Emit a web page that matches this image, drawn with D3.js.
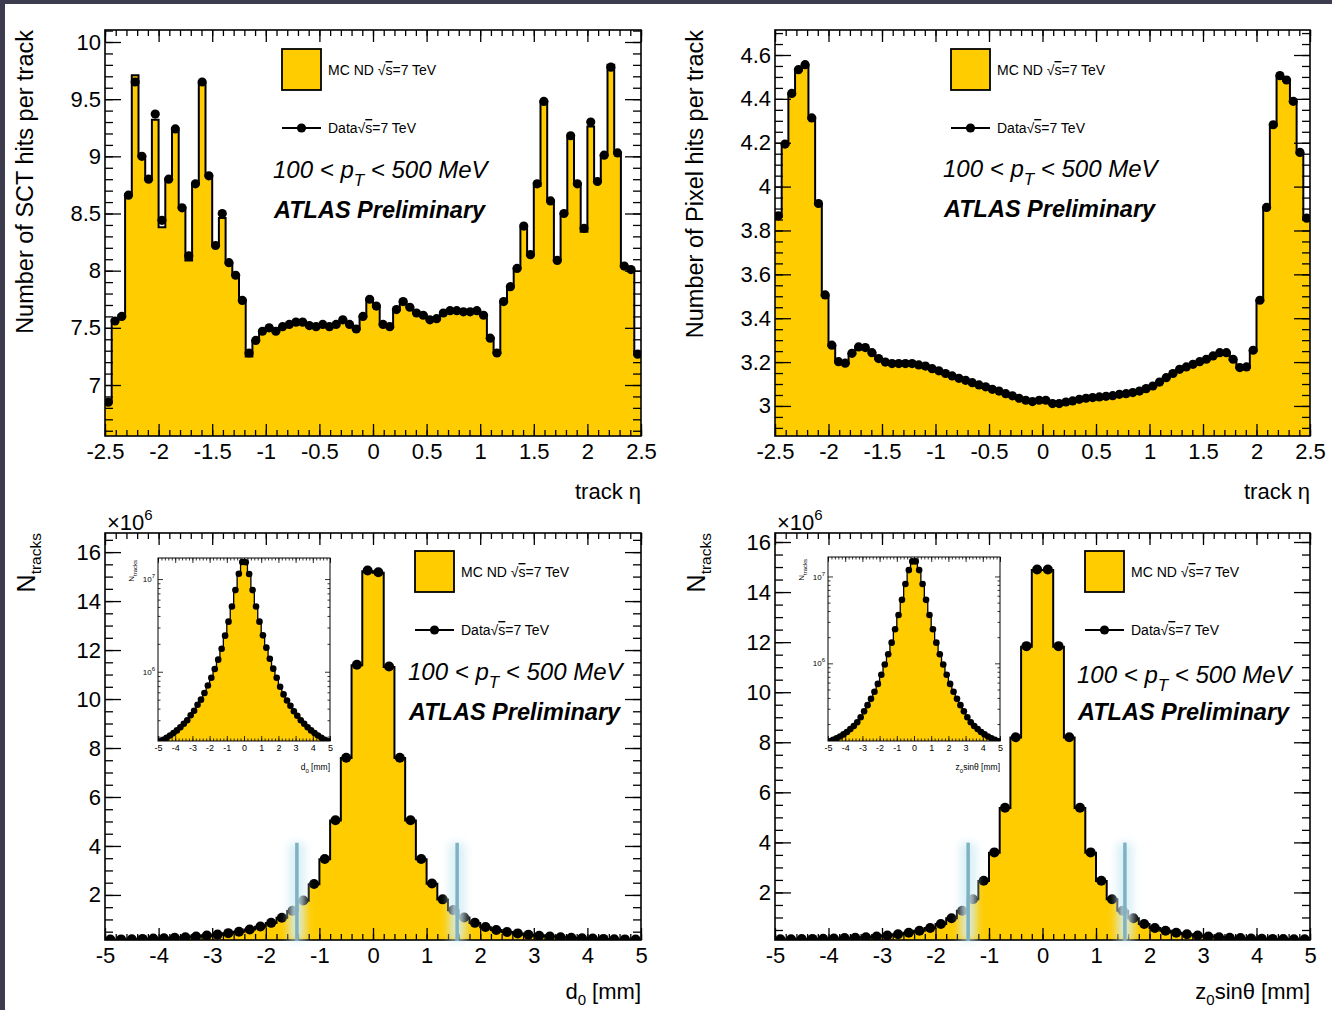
<!DOCTYPE html>
<html>
<head>
<meta charset="utf-8">
<script src="https://cdn.jsdelivr.net/npm/d3@7"></script>
<style>
  html, body { margin: 0; padding: 0; background: #3d3b4e; }
  svg { display: block; }
</style>
</head>
<body>
<svg id="chart" width="1332" height="1010"></svg>
<script>
// ---- data ----
const etaRange = [-2.5, 2.5]
const ipRange = [-5, 5]

// SCT hits per track, 80 bins in eta
const sctData = [
  6.85, 7.56, 7.60, 8.66, 9.65, 9.00, 8.80, 9.37, 8.44, 8.80,
  9.24, 8.55, 8.13, 8.76, 9.65, 8.83, 8.22, 8.50, 8.07, 7.96,
  7.74, 7.28, 7.39, 7.47, 7.50, 7.47, 7.51, 7.53, 7.55, 7.55,
  7.52, 7.51, 7.53, 7.51, 7.53, 7.57, 7.53, 7.49, 7.60, 7.75,
  7.69, 7.53, 7.51, 7.66, 7.73, 7.68, 7.63, 7.61, 7.57, 7.58,
  7.63, 7.65, 7.65, 7.64, 7.64, 7.65, 7.61, 7.41, 7.28, 7.73,
  7.86, 8.02, 8.39, 8.14, 8.76, 9.48, 8.61, 8.09, 8.50, 9.18,
  8.76, 8.37, 9.30, 8.78, 9.01, 9.78, 9.03, 8.04, 8.01, 7.27
]
const sctMC = [
  6.85, 7.57, 7.61, 8.67, 9.71, 9.00, 8.80, 9.32, 8.38, 8.80,
  9.22, 8.55, 8.09, 8.76, 9.64, 8.83, 8.22, 8.46, 8.07, 7.96,
  7.74, 7.25, 7.39, 7.47, 7.50, 7.47, 7.51, 7.53, 7.55, 7.55,
  7.52, 7.51, 7.53, 7.51, 7.53, 7.57, 7.53, 7.49, 7.60, 7.75,
  7.69, 7.53, 7.51, 7.66, 7.73, 7.68, 7.63, 7.61, 7.57, 7.58,
  7.63, 7.65, 7.65, 7.64, 7.64, 7.65, 7.61, 7.41, 7.28, 7.73,
  7.86, 8.02, 8.37, 8.14, 8.74, 9.48, 8.61, 8.09, 8.50, 9.16,
  8.76, 8.34, 9.26, 8.78, 9.01, 9.80, 9.03, 8.04, 8.01, 7.27
]

// Pixel hits per track, 80 bins in eta
const pixData = [
  3.867, 4.194, 4.425, 4.533, 4.556, 4.313, 3.923, 3.506, 3.277, 3.202,
  3.195, 3.240, 3.269, 3.266, 3.243, 3.216, 3.200, 3.193, 3.193, 3.193,
  3.193, 3.187, 3.182, 3.170, 3.160, 3.148, 3.137, 3.126, 3.117, 3.106,
  3.096, 3.087, 3.076, 3.068, 3.056, 3.046, 3.035, 3.026, 3.020, 3.026,
  3.026, 3.011, 3.011, 3.018, 3.023, 3.030, 3.035, 3.038, 3.041, 3.044,
  3.047, 3.053, 3.056, 3.061, 3.068, 3.079, 3.091, 3.109, 3.129, 3.148,
  3.167, 3.178, 3.190, 3.202, 3.213, 3.228, 3.243, 3.243, 3.213, 3.175,
  3.178, 3.254, 3.482, 3.905, 4.282, 4.506, 4.486, 4.389, 4.156, 3.856
]
const pixMC = [
  3.862, 4.190, 4.420, 4.530, 4.552, 4.310, 3.920, 3.502, 3.274, 3.200,
  3.193, 3.238, 3.266, 3.264, 3.241, 3.214, 3.198, 3.191, 3.191, 3.191,
  3.191, 3.185, 3.180, 3.168, 3.158, 3.146, 3.135, 3.124, 3.115, 3.104,
  3.094, 3.085, 3.074, 3.066, 3.054, 3.044, 3.033, 3.024, 3.018, 3.024,
  3.024, 3.009, 3.009, 3.016, 3.021, 3.028, 3.033, 3.036, 3.039, 3.042,
  3.045, 3.051, 3.054, 3.059, 3.066, 3.077, 3.089, 3.107, 3.127, 3.146,
  3.165, 3.176, 3.188, 3.200, 3.211, 3.226, 3.241, 3.241, 3.211, 3.173,
  3.176, 3.252, 3.480, 3.900, 4.278, 4.502, 4.482, 4.385, 4.152, 3.852
]

// d0 distribution (x10^6 tracks), 50 bins
const d0Data = [
  0.178, 0.185, 0.194, 0.205, 0.218, 0.233, 0.252, 0.275, 0.300, 0.340,
  0.380, 0.440, 0.500, 0.590, 0.710, 0.860, 1.070, 1.350, 1.770, 2.450,
  3.470, 5.050, 7.600, 11.40, 15.25, 15.18, 11.33, 7.600, 5.050, 3.470,
  2.470, 1.820, 1.380, 1.080, 0.860, 0.690, 0.570, 0.490, 0.430, 0.375,
  0.335, 0.300, 0.275, 0.252, 0.233, 0.218, 0.205, 0.194, 0.185, 0.178
]
const d0MC = [
  0.176, 0.184, 0.193, 0.204, 0.217, 0.232, 0.251, 0.274, 0.300, 0.338,
  0.378, 0.437, 0.497, 0.586, 0.705, 0.855, 1.065, 1.345, 1.760, 2.440,
  3.460, 5.040, 7.590, 11.38, 15.22, 15.16, 11.31, 7.590, 5.040, 3.460,
  2.460, 1.810, 1.370, 1.075, 0.855, 0.685, 0.566, 0.487, 0.428, 0.373,
  0.333, 0.299, 0.274, 0.251, 0.232, 0.217, 0.204, 0.193, 0.184, 0.176
]

// z0 sin(theta) distribution (x10^6 tracks), 50 bins
const z0Data = [
  0.127, 0.132, 0.137, 0.144, 0.152, 0.162, 0.175, 0.190, 0.210, 0.240,
  0.280, 0.330, 0.390, 0.470, 0.580, 0.740, 0.970, 1.270, 1.730, 2.470,
  3.600, 5.380, 8.200, 11.84, 14.90, 14.90, 11.84, 8.200, 5.380, 3.600,
  2.470, 1.730, 1.270, 0.970, 0.740, 0.580, 0.470, 0.390, 0.330, 0.280,
  0.240, 0.210, 0.190, 0.175, 0.162, 0.152, 0.144, 0.137, 0.132, 0.127
]
const z0MC = [
  0.126, 0.131, 0.136, 0.143, 0.151, 0.161, 0.174, 0.189, 0.209, 0.238,
  0.278, 0.328, 0.388, 0.468, 0.577, 0.736, 0.965, 1.265, 1.725, 2.460,
  3.590, 5.370, 8.190, 11.82, 14.88, 14.88, 11.82, 8.190, 5.370, 3.590,
  2.460, 1.725, 1.265, 0.965, 0.736, 0.577, 0.468, 0.388, 0.328, 0.278,
  0.238, 0.209, 0.189, 0.174, 0.161, 0.151, 0.143, 0.136, 0.131, 0.126
]

// highlighted cut lines drawn over the lower plots
const d0Cuts = [-1.42, 1.57]
const z0Cuts = [-1.39, 1.54]
const cutTops = [4.13, 3.99]

const etaMajor = [-2.5, -2, -1.5, -1, -0.5, 0, 0.5, 1, 1.5, 2, 2.5]
const sctMajor = [7, 7.5, 8, 8.5, 9, 9.5, 10]
const pixMajor = [3, 3.2, 3.4, 3.6, 3.8, 4, 4.2, 4.4, 4.6]
const ipMajor = [-5, -4, -3, -2, -1, 0, 1, 2, 3, 4, 5]
const countMajor = [2, 4, 6, 8, 10, 12, 14, 16]
const logMajor = [1e6, 1e7]

// ---- drawing ----
const YELLOW = '#ffcc00'
const FONT = '"Liberation Sans", Arial, Helvetica, sans-serif'

const svg = d3.select('#chart').attr('font-family', FONT)
svg.append('rect').attr('width', 1332).attr('height', 1010).attr('fill', '#3d3b4e')
svg.append('rect').attr('x', 5).attr('y', 4).attr('width', 1327).attr('height', 1006).attr('fill', '#fff')

const defs = svg.append('defs')
defs.append('filter').attr('id', 'glow').attr('filterUnits', 'userSpaceOnUse')
  .attr('x', 0).attr('y', 0).attr('width', 1332).attr('height', 1010)
  .append('feGaussianBlur').attr('stdDeviation', 4)

const fmt = (d) => String(+d.toFixed(2))
const steps = (a, b, s) => d3.range(Math.round((b - a) / s) + 1).map((i) => +(a + i * s).toFixed(4))

function tickAxis(g, gen, tr, values, size, opts = {}) {
  const a = g.append('g').attr('transform', tr)
    .call(gen.tickValues(values).tickSize(-size).tickPadding(opts.pad ?? 0)
      .tickFormat(opts.labels ? (opts.format || fmt) : ''))
  a.select('.domain').remove()
  a.selectAll('line').attr('stroke', '#000').attr('stroke-width', opts.tw ?? 1.3)
  a.selectAll('text').attr('font-size', opts.fs ?? 22).attr('font-family', FONT).attr('fill', '#000')
  return a
}

function histo(g, x, y, values, clipId, mc, lw, r) {
  const [lo, hi] = x.domain()
  const w = (hi - lo) / values.length
  const pts = mc.map((v, i) => ({ e: lo + i * w, v }))
  pts.push({ e: hi, v: mc[mc.length - 1] })
  const base = y.range()[0]
  const body = g.append('g').attr('clip-path', `url(#${clipId})`)
  body.append('path').datum(pts)
    .attr('d', d3.area().x((d) => x(d.e)).y0(base).y1((d) => y(d.v)).curve(d3.curveStepAfter))
    .attr('fill', YELLOW)
  body.append('path').datum(pts)
    .attr('d', d3.line().x((d) => x(d.e)).y((d) => y(d.v)).curve(d3.curveStepAfter))
    .attr('fill', 'none').attr('stroke', '#000').attr('stroke-width', lw)
  body.selectAll('circle.pt').data(values).join('circle')
    .attr('class', 'pt')
    .attr('cx', (d, i) => x(lo + (i + 0.5) * w))
    .attr('cy', (d) => y(d))
    .attr('r', r)
    .attr('fill', '#000')
}

function clip(id, x0, y0, x1, y1) {
  defs.append('clipPath').attr('id', id).append('rect')
    .attr('x', x0).attr('y', y0).attr('width', x1 - x0).attr('height', y1 - y0)
}

function sqrtLabel(g, tx, ty, prefix, fs) {
  const t = g.append('text').attr('x', tx).attr('y', ty).attr('font-size', fs).attr('fill', '#000')
  t.append('tspan').text(prefix + '\u221a')
  t.append('tspan').attr('text-decoration', 'overline').text('s')
  t.append('tspan').text('=7 TeV')
}

const panels = [
  { id: 'sct', x0: 105, x1: 641, y0: 30, y1: 436, xDom: etaRange, yDom: [6.554, 10.105],
    data: sctData, mc: sctMC, xMajor: etaMajor, xMinor: steps(-2.5, 2.5, 0.1),
    yMajor: sctMajor, yMinor: steps(6.6, 10.1, 0.1), r: 4.6,
    ytitle: ['Number of SCT hits per track'], xtitle: 'track', leg: [282, 49] , txt: [273, 178] },
  { id: 'pix', x0: 775, x1: 1310, y0: 30, y1: 436, xDom: etaRange, yDom: [2.863, 4.714],
    data: pixData, mc: pixMC, xMajor: etaMajor, xMinor: steps(-2.5, 2.5, 0.1),
    yMajor: pixMajor, yMinor: steps(2.9, 4.7, 0.05), r: 4.6,
    ytitle: ['Number of Pixel hits per track'], xtitle: 'track', leg: [951, 49], txt: [943, 177] },
  { id: 'd0', x0: 105, x1: 641, y0: 533, y1: 940, xDom: ipRange, yDom: [0.16, 16.78],
    data: d0Data, mc: d0MC, xMajor: ipMajor, xMinor: steps(-5, 5, 0.2),
    yMajor: countMajor, yMinor: steps(0.5, 16.5, 0.5), r: 5,
    cuts: d0Cuts, cutTop: cutTops[0], leg: [415, 551], txt: [408, 680],
    inset: { x0: 158, x1: 330, y0: 558, y1: 741, yDom: [10 ** 5.253, 10 ** 7.227], title: 'd0' } },
  { id: 'z0', x0: 775, x1: 1310, y0: 533, y1: 940, xDom: ipRange, yDom: [0.1, 16.36],
    data: z0Data, mc: z0MC, xMajor: ipMajor, xMinor: steps(-5, 5, 0.2),
    yMajor: countMajor, yMinor: steps(0.5, 16, 0.5), r: 5,
    cuts: z0Cuts, cutTop: cutTops[1], leg: [1085, 551], txt: [1077, 683],
    inset: { x0: 828, x1: 1000, y0: 557, y1: 741, yDom: [10 ** 5.106, 10 ** 7.224], title: 'z0' } },
]

panels.forEach((p) => {
  const g = svg.append('g')
  const x = d3.scaleLinear().domain(p.xDom).range([p.x0, p.x1])
  const y = d3.scaleLinear().domain(p.yDom).range([p.y1, p.y0])
  clip('clip-' + p.id, p.x0, p.y0, p.x1, p.y1)

  histo(g, x, y, p.data, 'clip-' + p.id, p.mc, 2, p.r)

  // frame and ROOT style ticks on all sides
  g.append('rect').attr('x', p.x0).attr('y', p.y0).attr('width', p.x1 - p.x0).attr('height', p.y1 - p.y0)
    .attr('fill', 'none').attr('stroke', '#000').attr('stroke-width', 1.6)
  tickAxis(g, d3.axisBottom(x), `translate(0,${p.y1})`, p.xMajor, 12, { labels: true, pad: 7 })
  tickAxis(g, d3.axisBottom(x), `translate(0,${p.y1})`, p.xMinor, 6)
  tickAxis(g, d3.axisTop(x), `translate(0,${p.y0})`, p.xMajor, 12)
  tickAxis(g, d3.axisTop(x), `translate(0,${p.y0})`, p.xMinor, 6)
  tickAxis(g, d3.axisLeft(y), `translate(${p.x0},0)`, p.yMajor, 16, { labels: true, pad: 4 })
  tickAxis(g, d3.axisLeft(y), `translate(${p.x0},0)`, p.yMinor, 8)
  tickAxis(g, d3.axisRight(y), `translate(${p.x1},0)`, p.yMajor, 16)
  tickAxis(g, d3.axisRight(y), `translate(${p.x1},0)`, p.yMinor, 8)

  // axis titles
  if (p.ytitle) {
    g.append('text').attr('transform', `translate(${p.x0 - 72},${p.y0}) rotate(-90)`)
      .attr('text-anchor', 'end').attr('font-size', 23.5).text(p.ytitle[0])
    g.append('text').attr('x', p.x1).attr('y', 499).attr('text-anchor', 'end').attr('font-size', 22)
      .text('track \u03b7')
  } else {
    const t = g.append('text').attr('transform', `translate(${p.x0 - 70},${p.y0}) rotate(-90)`)
      .attr('text-anchor', 'end').attr('font-size', 25)
    t.append('tspan').text('N')
    t.append('tspan').attr('dy', 6).attr('font-size', 15.5).text('tracks')
    const m = g.append('text').attr('x', p.x0 + 2).attr('y', 530).attr('font-size', 22)
    m.append('tspan').text('\u00d710')
    m.append('tspan').attr('dy', -10).attr('font-size', 15).text('6')
    const xt = g.append('text').attr('x', p.x1).attr('y', 999).attr('text-anchor', 'end').attr('font-size', 22)
    if (p.id === 'd0') {
      xt.append('tspan').text('d')
      xt.append('tspan').attr('dy', 6).attr('font-size', 15).text('0')
      xt.append('tspan').attr('dy', -6).text(' [mm]')
    } else {
      xt.append('tspan').text('z')
      xt.append('tspan').attr('dy', 6).attr('font-size', 15).text('0')
      xt.append('tspan').attr('dy', -6).text('sin\u03b8 [mm]')
    }
  }

  // legend
  const [lx, ly] = p.leg
  g.append('rect').attr('x', lx).attr('y', ly).attr('width', 39).attr('height', 41)
    .attr('fill', YELLOW).attr('stroke', '#000').attr('stroke-width', 1.8)
  sqrtLabel(g, lx + 46, ly + 26, 'MC ND ', 14)
  g.append('line').attr('x1', lx).attr('x2', lx + 39).attr('y1', ly + 79).attr('y2', ly + 79)
    .attr('stroke', '#000').attr('stroke-width', 2)
  g.append('circle').attr('cx', lx + 19.5).attr('cy', ly + 79).attr('r', 4.6).attr('fill', '#000')
  sqrtLabel(g, lx + 46, ly + 84, 'Data', 14)

  // labels
  const [tx, ty] = p.txt
  const pt = g.append('text').attr('x', tx).attr('y', ty).attr('font-size', 24).attr('font-style', 'italic')
  pt.append('tspan').text('100 < p')
  pt.append('tspan').attr('dy', 8).attr('font-size', 17).text('T')
  pt.append('tspan').attr('dy', -8).text(' < 500 MeV')
  g.append('text').attr('x', tx + 1).attr('y', ty + (p.id === 'z0' ? 37 : 40)).attr('font-size', 23.5)
    .attr('font-style', 'italic').attr('font-weight', 'bold').text('ATLAS Preliminary')

  // inset log-scale view
  if (p.inset) {
    const s = p.inset
    const ix = d3.scaleLinear().domain(p.xDom).range([s.x0, s.x1])
    const iy = d3.scaleLog().domain(s.yDom).range([s.y1, s.y0])
    const ig = g.append('g')
    ig.append('rect').attr('x', s.x0).attr('y', s.y0).attr('width', s.x1 - s.x0).attr('height', s.y1 - s.y0)
      .attr('fill', '#fff')
    clip('clip-in-' + p.id, s.x0, s.y0, s.x1, s.y1)
    histo(ig, ix, iy, p.data.map((v) => v * 1e6), 'clip-in-' + p.id, p.mc.map((v) => v * 1e6), 1.3, 3.3)
    ig.append('rect').attr('x', s.x0).attr('y', s.y0).attr('width', s.x1 - s.x0).attr('height', s.y1 - s.y0)
      .attr('fill', 'none').attr('stroke', '#000').attr('stroke-width', 1)
    const minorLog = [2e5, 3e5, 4e5, 5e5, 6e5, 7e5, 8e5, 9e5, 2e6, 3e6, 4e6, 5e6, 6e6, 7e6, 8e6, 9e6]
      .filter((v) => v > s.yDom[0])
    const o = { tw: 0.8, fs: 9 }
    tickAxis(ig, d3.axisBottom(ix), `translate(0,${s.y1})`, p.xMajor, 5, { ...o, labels: true, pad: 4 })
    tickAxis(ig, d3.axisBottom(ix), `translate(0,${s.y1})`, steps(-5, 5, 0.2), 2.5, o)
    tickAxis(ig, d3.axisTop(ix), `translate(0,${s.y0})`, p.xMajor, 5, o)
    tickAxis(ig, d3.axisTop(ix), `translate(0,${s.y0})`, steps(-5, 5, 0.2), 2.5, o)
    const yl = tickAxis(ig, d3.axisLeft(iy), `translate(${s.x0},0)`, logMajor, 5, { ...o, labels: true, pad: 3, format: () => '' })
    yl.selectAll('text').each(function (d) {
      const t = d3.select(this).attr('font-size', 8)
      t.append('tspan').text('10')
      t.append('tspan').attr('dy', -4).attr('font-size', 6).text(Math.round(Math.log10(d)))
    })
    tickAxis(ig, d3.axisLeft(iy), `translate(${s.x0},0)`, minorLog, 2.5, o)
    tickAxis(ig, d3.axisRight(iy), `translate(${s.x1},0)`, logMajor, 5, o)
    tickAxis(ig, d3.axisRight(iy), `translate(${s.x1},0)`, minorLog, 2.5, o)

    const it = ig.append('text').attr('x', s.x1).attr('y', s.y1 + 29).attr('text-anchor', 'end').attr('font-size', 8.5)
    it.append('tspan').text(s.title === 'd0' ? 'd' : 'z')
    it.append('tspan').attr('dy', 2.5).attr('font-size', 6).text('0')
    it.append('tspan').attr('dy', -2.5).text(s.title === 'd0' ? ' [mm]' : 'sin\u03b8 [mm]')
    const iyT = ig.append('text').attr('transform', `translate(${s.x0 - 24},${s.y0 + 2}) rotate(-90)`)
      .attr('text-anchor', 'end').attr('font-size', 8)
    iyT.append('tspan').text('N')
    iyT.append('tspan').attr('dy', 2.5).attr('font-size', 6).text('tracks')
  }

  // highlighted cut lines
  if (p.cuts) {
    const cg = g.append('g')
    cg.selectAll('line.glow').data(p.cuts).join('line').attr('class', 'glow')
      .attr('x1', (d) => x(d)).attr('x2', (d) => x(d))
      .attr('y1', y(p.cutTop)).attr('y2', p.y1 + 1)
      .attr('stroke', '#d2edf5').attr('stroke-width', 16).attr('opacity', 0.85)
      .attr('filter', 'url(#glow)')
    cg.selectAll('line.cut').data(p.cuts).join('line').attr('class', 'cut')
      .attr('x1', (d) => x(d)).attr('x2', (d) => x(d))
      .attr('y1', y(p.cutTop)).attr('y2', p.y1 + 1)
      .attr('stroke', '#7eb1c2').attr('stroke-width', 3.5)
  }
})
</script>
</body>
</html>
